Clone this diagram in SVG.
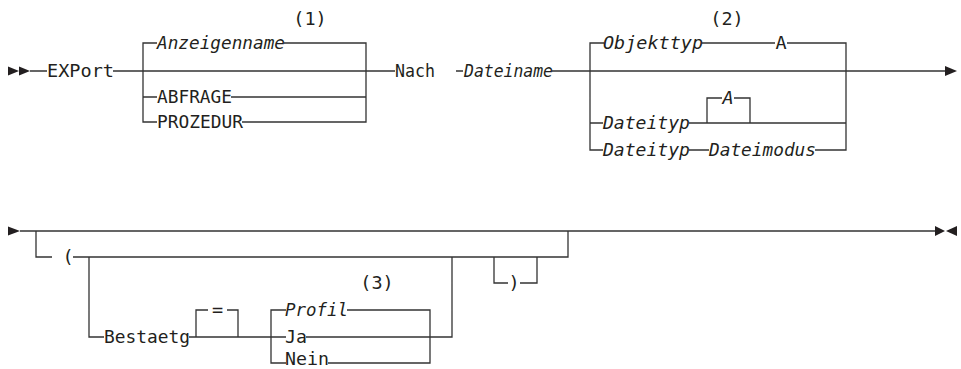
<svg xmlns="http://www.w3.org/2000/svg" width="961" height="369" viewBox="0 0 961 369">
<style>
.t{font-family:"DejaVu Sans Mono","Liberation Mono",monospace;font-size:18.5px;fill:#231f20}
.i{font-style:italic}
.m{text-anchor:middle}
.l{stroke:#333;stroke-width:1.3;fill:none}
.a{fill:#231f20}
</style>
<rect width="961" height="369" fill="#fff"/>
<g id="connectors">
<path class="l" d="M30 71H47M113 71H395M157 43H143V122H157M143 97H157M284 43H366V122H242M231 97H366M456 71H463M552 71H945"/>
<path class="l" d="M604 43H590V150H603M590 123H603M702 43H775M787 43H846V150H815M689 123H846M707 123V98H722M734 98H750V123M689 150H709"/>
<path class="l" d="M20 231H935M36 231V257H52M73 257H568V231M89 257V337H104M189 337H286M306 337H452V257M286 310H271V363H286M347 310H430V363H328M196 337V310H208M227 310H238V337M494 257V283H508M520 283H537V257"/>
</g>
<g id="start1"><polygon class="a" points="8,66.5 19,71 8,75.5"/><polygon class="a" points="19,66.5 30,71 19,75.5"/></g>
<g id="export"><text class="t" x="47" y="77" textLength="67" lengthAdjust="spacingAndGlyphs">EXPort</text></g>
<g id="note1"><text class="t m" x="310" y="25">(1)</text></g>
<g id="anzeigenname"><text class="t i" x="157" y="49" textLength="128" lengthAdjust="spacingAndGlyphs">Anzeigenname</text></g>
<g id="abfrage"><text class="t" x="157" y="103" textLength="75" lengthAdjust="spacingAndGlyphs">ABFRAGE</text></g>
<g id="prozedur"><text class="t" x="157" y="128" textLength="86" lengthAdjust="spacingAndGlyphs">PROZEDUR</text></g>
<g id="nach"><text class="t" x="395" y="77" textLength="40" lengthAdjust="spacingAndGlyphs">Nach</text></g>
<g id="dateiname"><text class="t i" x="464" y="77" textLength="89" lengthAdjust="spacingAndGlyphs">Dateiname</text></g>
<g id="note2"><text class="t m" x="727" y="25">(2)</text></g>
<g id="objekttyp"><text class="t i" x="603" y="49" textLength="100" lengthAdjust="spacingAndGlyphs">Objekttyp</text></g>
<g id="a1"><text class="t m" x="781" y="49">A</text></g>
<g id="dateityp1"><text class="t i" x="603" y="129" textLength="87" lengthAdjust="spacingAndGlyphs">Dateityp</text></g>
<g id="a2"><text class="t i m" x="728" y="104">A</text></g>
<g id="dateityp2"><text class="t i" x="603" y="156" textLength="87" lengthAdjust="spacingAndGlyphs">Dateityp</text></g>
<g id="dateimodus"><text class="t i" x="709" y="156" textLength="107" lengthAdjust="spacingAndGlyphs">Dateimodus</text></g>
<g id="end1"><polygon class="a" points="945,66 957,71 945,76"/></g>
<g id="start2"><polygon class="a" points="8,226.5 20,231 8,235.5"/></g>
<g id="lparen"><text class="t m" x="68" y="263">(</text></g>
<g id="bestaetg"><text class="t" x="104" y="343" textLength="86" lengthAdjust="spacingAndGlyphs">Bestaetg</text></g>
<g id="eq"><text class="t m" x="217.5" y="316">=</text></g>
<g id="note3"><text class="t m" x="377" y="289">(3)</text></g>
<g id="profil"><text class="t i" x="285" y="316" textLength="63" lengthAdjust="spacingAndGlyphs">Profil</text></g>
<g id="ja"><text class="t" x="285" y="343" textLength="22" lengthAdjust="spacingAndGlyphs">Ja</text></g>
<g id="nein"><text class="t" x="285" y="365" textLength="44" lengthAdjust="spacingAndGlyphs">Nein</text></g>
<g id="rparen"><text class="t m" x="514" y="289">)</text></g>
<g id="end2"><polygon class="a" points="935,226 945,231 935,236"/><polygon class="a" points="957,226 946,231 957,236"/></g>
</svg>
